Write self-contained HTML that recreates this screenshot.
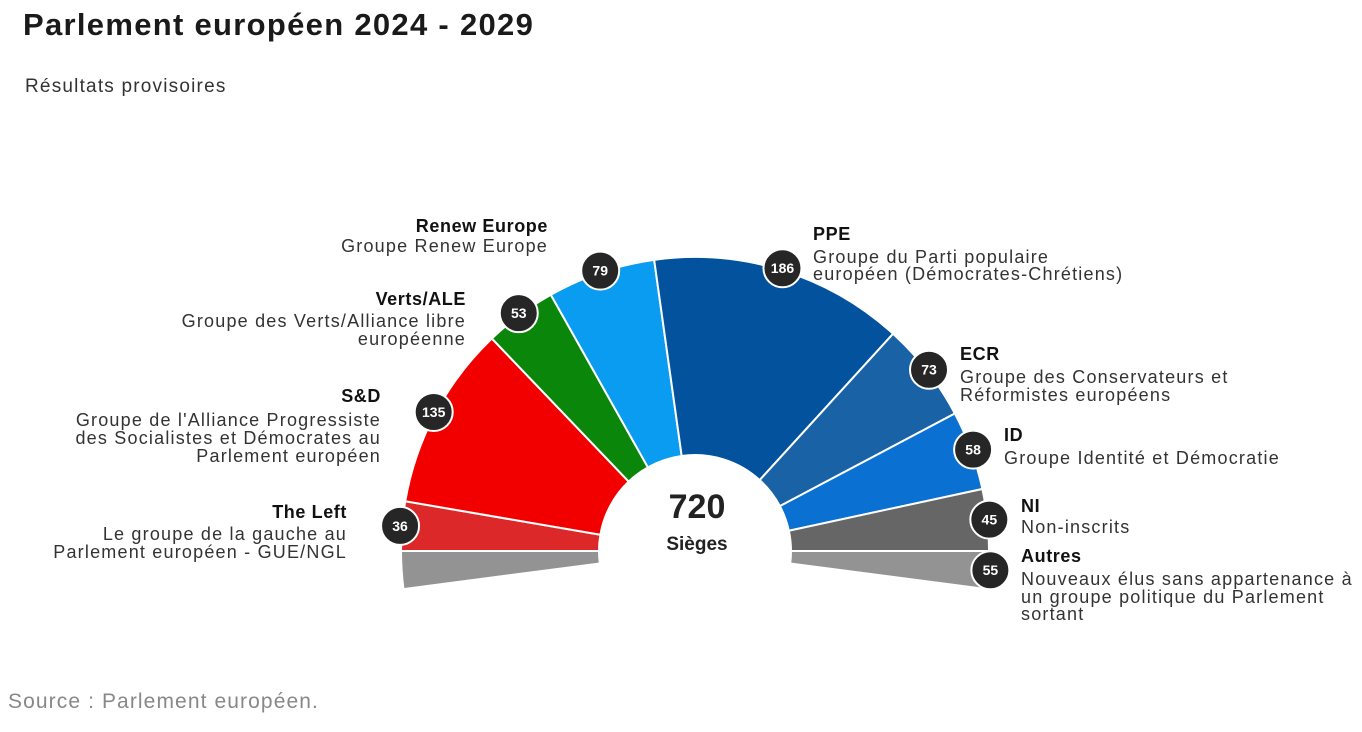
<!DOCTYPE html>
<html><head><meta charset="utf-8"><style>
body{margin:0;background:#fff;width:1362px;height:727px;overflow:hidden;font-family:"Liberation Sans",sans-serif;}
</style></head><body>
<svg width="1362" height="727">
<text x="23" y="35" font-size="31" font-weight="bold" letter-spacing="1.3" fill="#1a1a1a">Parlement européen 2024 - 2029</text>
<text x="25" y="92" font-size="19" letter-spacing="1.2" fill="#333">Résultats provisoires</text>
<text x="8" y="708" font-size="21" letter-spacing="1.1" fill="#888">Source : Parlement européen.</text>
<g id="arcs"></g>
<g id="badges"></g>
<text x="697" y="518" font-size="34" font-weight="bold" text-anchor="middle" fill="#222">720</text>
<text x="697" y="550" font-size="19" font-weight="bold" text-anchor="middle" fill="#222">Sièges</text>
<g font-size="18" letter-spacing="1.2" fill="#333">
<g text-anchor="end"><text x="548" y="232" font-weight="bold" letter-spacing="0.6" fill="#111">Renew Europe</text><text x="548" y="252">Groupe Renew Europe</text></g>
<g text-anchor="end"><text x="466" y="305" font-weight="bold" letter-spacing="0.6" fill="#111">Verts/ALE</text><text x="466" y="327">Groupe des Verts/Alliance libre</text><text x="466" y="345">européenne</text></g>
<g text-anchor="end"><text x="381" y="402" font-weight="bold" letter-spacing="0.6" fill="#111">S&amp;D</text><text x="381" y="426">Groupe de l'Alliance Progressiste</text><text x="381" y="444">des Socialistes et Démocrates au</text><text x="381" y="462">Parlement européen</text></g>
<g text-anchor="end"><text x="347" y="518" font-weight="bold" letter-spacing="0.6" fill="#111">The Left</text><text x="347" y="540">Le groupe de la gauche au</text><text x="347" y="558">Parlement européen - GUE/NGL</text></g>
<g><text x="813" y="240" font-weight="bold" letter-spacing="0.6" fill="#111">PPE</text><text x="813" y="263">Groupe du Parti populaire</text><text x="813" y="280">européen (Démocrates-Chrétiens)</text></g>
<g><text x="960" y="360" font-weight="bold" letter-spacing="0.6" fill="#111">ECR</text><text x="960" y="383">Groupe des Conservateurs et</text><text x="960" y="401">Réformistes européens</text></g>
<g><text x="1004" y="441" font-weight="bold" letter-spacing="0.6" fill="#111">ID</text><text x="1004" y="464">Groupe Identité et Démocratie</text></g>
<g><text x="1021" y="512" font-weight="bold" letter-spacing="0.6" fill="#111">NI</text><text x="1021" y="533">Non-inscrits</text></g>
<g><text x="1021" y="562" font-weight="bold" letter-spacing="0.6" fill="#111">Autres</text><text x="1021" y="585">Nouveaux élus sans appartenance à</text><text x="1021" y="603">un groupe politique du Parlement</text><text x="1021" y="620">sortant</text></g>
</g>
</svg>
<script>
const groups=["Autres","The Left","S&D","Verts/ALE","Renew Europe","PPE","ECR","ID","NI","Autres"];
const seats=[27.5,36,135,53,79,186,73,58,45,27.5];
const badgeValues=[null,36,135,53,79,186,73,58,45,55];
const colors=["#939393","#dc2828","#f20000","#0a870a","#0a9cf0","#02529e","#1a62a6","#0a70d2","#666666","#939393"];
const cx=695,cy=551,R=294,r=96;
const total=seats.reduce((a,b)=>a+b,0);
const span=180*total/(total-55);
const start=180+(span-180)/2;
const ns="http://www.w3.org/2000/svg";
function ang(s){return (start-s/total*span)*Math.PI/180;}
function pt(a,rad){return [cx+rad*Math.cos(a),cy-rad*Math.sin(a)];}
const arcs=document.getElementById('arcs'),badges=document.getElementById('badges');
let acc=0;
seats.forEach((v,i)=>{
 const a0=ang(acc),a1=ang(acc+v);acc+=v;
 const p0=pt(a0,R),p1=pt(a1,R),q1=pt(a1,r),q0=pt(a0,r);
 const large=(a0-a1)>Math.PI?1:0;
 const p=document.createElementNS(ns,'path');
 p.setAttribute('d',`M${p0} A${R},${R} 0 ${large} 1 ${p1} L${q1} A${r},${r} 0 ${large} 0 ${q0} Z`);
 p.setAttribute('fill',colors[i]);p.setAttribute('stroke','#fff');p.setAttribute('stroke-width','2');
 
 
 arcs.appendChild(p);
 if(badgeValues[i]!==null){
  const am=(a0+a1)/2,c=pt(am,R+2);
  const g=document.createElementNS(ns,'g');
  
  
  g.innerHTML=`<circle cx="${c[0]}" cy="${c[1]}" r="19" fill="#262626" stroke="#fff" stroke-width="2"/><text x="${c[0]}" y="${c[1]+5}" font-size="14" font-weight="bold" fill="#fff" text-anchor="middle">${badgeValues[i]}</text>`;
  badges.appendChild(g);
 }
});
</script>
</body></html>
